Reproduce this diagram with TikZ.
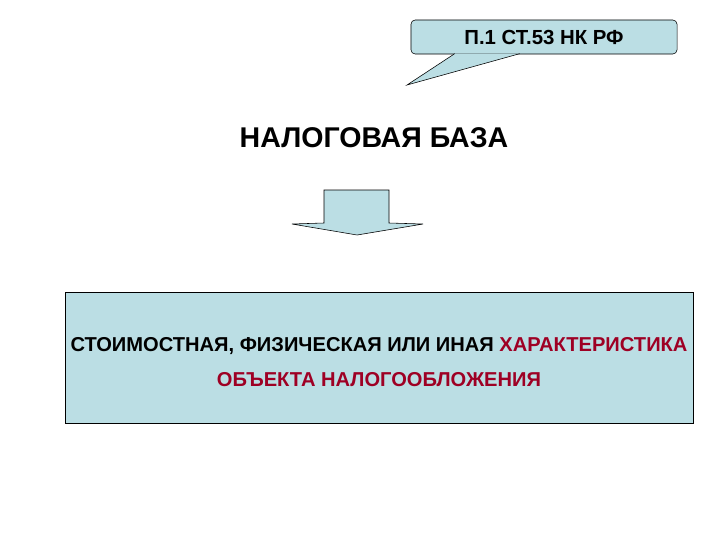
\documentclass[tikz,border=0pt]{standalone}
\usepackage{fontspec}
\setmainfont{Liberation Sans}
\usetikzlibrary{positioning,calc}
\definecolor{boxfill}{RGB}{187,222,228}
\definecolor{redtext}{RGB}{158,0,36}
\tikzset{
  callout/.style={draw, fill=boxfill, rounded corners=3pt, minimum width=6.65cm, minimum height=0.85cm, inner sep=0pt, font=\bfseries\fontsize{14.5}{16}\selectfont},
  basebox/.style={draw, fill=boxfill, minimum width=15.7cm, minimum height=3.275cm, inner sep=0pt, align=center, text height=42pt, font=\bfseries\fontsize{14.3}{25.5}\selectfont},
  arrowshape/.style={draw, fill=boxfill, line join=miter}
}
\begin{document}
\begin{tikzpicture}[x=0.025cm, y=-0.025cm]
  \useasboundingbox (0,0) rectangle (720,540);
  % reference
  \node [callout] (note) at (544,37) {П.1 СТ.53 НК РФ};
  \coordinate (tl) at ($(note.south west)+(44,-0.6)$);
  \coordinate (tr) at ($(note.south west)+(109,-0.6)$);
  \coordinate (tip) at (407,85);
  \fill [boxfill] (tl) -- (tip) -- (tr) -- cycle;
  \draw (tl) -- (tip) -- (tr);
  %
  \node [font=\bfseries\fontsize{20.3}{22}\selectfont] (title) at (374,138) {НАЛОГОВАЯ БАЗА};
  %
  \draw [arrowshape] (324,190) -- (389,190) -- (389,223) -- (423,224) -- (357,235)
     -- (292,224) -- (324,223) -- cycle;
  %
  \node [basebox] (base) at (379,357.5) {СТОИМОСТНАЯ, ФИЗИЧЕСКАЯ ИЛИ ИНАЯ \textcolor{redtext}{ХАРАКТЕРИСТИКА}\\
     \textcolor{redtext}{ОБЪЕКТА НАЛОГООБЛОЖЕНИЯ}};
\end{tikzpicture}
\end{document}
